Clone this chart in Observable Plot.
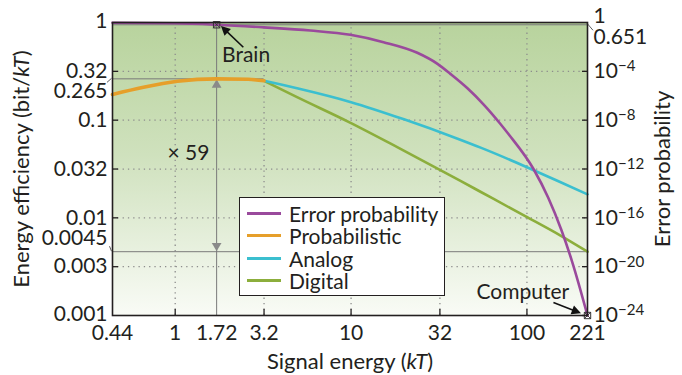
<!DOCTYPE html>
<html>
<head>
<meta charset="utf-8">
<script src="https://cdn.jsdelivr.net/npm/d3@7"></script>
<script src="https://cdn.jsdelivr.net/npm/@observablehq/plot@0.6"></script>
<style>
  body { margin: 0; background: #fff; }
  #wrap { position: relative; width: 682px; height: 375px; font-family: Lato, sans-serif; color: #231f20; }
  #legend { position: absolute; left: 239px; top: 197px; width: 206px; height: 99px; background: #fff;
            border: 1.5px solid #231f20; box-sizing: border-box; }
  .row { position: absolute; left: 0; height: 22px; display: flex; align-items: center; font-size: 21px; white-space: nowrap; }
  .sw { width: 34px; height: 3px; margin-left: 7px; margin-right: 8px; }
</style>
</head>
<body>
<div id="wrap"><div id="legend"></div></div>
<script>
// ---------- data ----------
// Error probability curve (signal energy in kT, probability)
const errX = [0.44, 1.0, 1.72, 3.2, 5.87, 9.9, 15.3, 23.8, 31, 36.7, 45.9, 56.6, 70.7, 78.5, 109, 132, 157, 181, 221];
const errP = [0.95, 0.86, 0.651, 0.40, 0.22, 0.098, 2.45e-2, 3.3e-3, 4.1e-4, 6.2e-5, 4.1e-6, 2.0e-7, 4.9e-9, 7.4e-10, 1.0e-12, 4.6e-15, 1.0e-17, 2.4e-20, 1e-24];
// Probabilistic (bit/kT)
const probX = [0.44, 0.66, 1.03, 1.72, 2.6, 3.2];
const probY = [0.183, 0.217, 0.25, 0.265, 0.262, 0.253];
// Analog
const anaX = [3.2, 5, 10, 20, 40, 55, 100, 150, 221];
const anaY = [0.253, 0.211, 0.153, 0.102, 0.065, 0.052, 0.033, 0.0238, 0.0174];
// Digital
const digX = [3.2, 4.93, 9.8, 18.3, 41.9, 54.4, 97.8, 157, 221];
const digY = [0.253, 0.172, 0.095, 0.053, 0.0239, 0.0185, 0.0104, 0.0065, 0.0045];

// Axis ticks and labels
const xLabelTicks = [0.44, 1, 1.72, 3.2, 10, 32, 100, 221];
const xTickMarks = [1, 3.2, 10, 32, 100];
const yTickVals = [0.316, 0.1, 0.0316, 0.01, 0.00316];
const yTickLabels = ["0.32", "0.1", "0.032", "0.01", "0.003"];
const yEndVals = [1, 0.001];
const yEndLabels = ["1", "0.001"];
const errTicks = [-4, -8, -12, -16, -20, -24]; // exponents of 10
const seriesNames = ["Error probability", "Probabilistic", "Analog", "Digital"];
const seriesColors = ["#9a4a9c", "#e69f2a", "#3bbfcf", "#8cae3c"];

// Annotations (data coordinates)
const brainE = 1.72, brainP = 0.651, peakEff = 0.265, compE = 221, compP = 1e-24, digEff = 0.0045;
const ratioText = "× 59";
const brainText = {x: 2.53, y: 0.465};
const brainArrow = {x1: 2.44, y1: 0.558, x2: 1.87, y2: 0.88};
const compText = {x: 94.8, y: 0.00171};
const compArrow = {x1: 141.5, y1: 0.00136, x2: 196, y2: 0.00108};
const ratioPos = {x: 1.19, y: 0.0455};

// error probability -> left-scale position (1 ↔ 1, 1e-24 ↔ 0.001)
const eff = p => Math.pow(p, 1 / 8);

const errData = errX.map((x, i) => ({x, y: eff(errP[i])}));
const probData = probX.map((x, i) => ({x, y: probY[i]}));
const anaData = anaX.map((x, i) => ({x, y: anaY[i]}));
const digData = digX.map((x, i) => ({x, y: digY[i]}));

const leftLab = yTickVals.map((v, i) => ({v, t: yTickLabels[i]}));
const rightLab = errTicks.map(k => ({v: eff(Math.pow(10, k)), t: "10^" + k}));
const gridCol = "#8d8d8d";
const refCol = "#7a7a7a";
const ink = "#231f20";
const FS = 21;

const plot = Plot.plot({
  width: 682, height: 375,
  marginLeft: 112, marginRight: 95, marginTop: 22, marginBottom: 60,
  style: {fontFamily: "Lato, sans-serif", fontSize: "22px", color: ink, background: "transparent", overflow: "visible"},
  x: {type: "log", domain: [0.44, 221]},
  y: {type: "log", domain: [0.001, 1]},
  marks: [
    Plot.frame({fill: "url(#bgGrad)", stroke: null}),
    Plot.gridX(xTickMarks, {stroke: gridCol, strokeOpacity: 1, strokeWidth: 1.3, strokeDasharray: "1.3,4"}),
    Plot.gridY(yTickVals, {stroke: gridCol, strokeOpacity: 1, strokeWidth: 1.3, strokeDasharray: "1.3,4"}),
    // reference lines
    Plot.ruleY([peakEff], {x1: 0.44, x2: 3.2, stroke: refCol, strokeWidth: 1}),
    Plot.ruleY([digEff], {stroke: refCol, strokeWidth: 1}),
    Plot.ruleY([eff(brainP)], {stroke: refCol, strokeWidth: 1}),
    Plot.ruleX([brainE], {stroke: refCol, strokeWidth: 1}),
    Plot.dot([{x: brainE, y: peakEff}], {x: "x", y: "y", symbol: "triangle", r: 3.6, fill: "#8a8a8a", stroke: null, dy: 6}),
    Plot.dot([{x: brainE, y: digEff}], {x: "x", y: "y", symbol: "triangle", r: 3.6, fill: "#8a8a8a", stroke: null, dy: -6, rotate: 180}),
    // curves
    Plot.line(digData, {x: "x", y: "y", stroke: seriesColors[3], strokeWidth: 2.6, curve: "monotone-x"}),
    Plot.line(anaData, {x: "x", y: "y", stroke: seriesColors[2], strokeWidth: 2.6, curve: "monotone-x"}),
    Plot.line(errData, {x: "x", y: "y", stroke: seriesColors[0], strokeWidth: 2.6, curve: "monotone-x"}),
    Plot.line(probData, {x: "x", y: "y", stroke: seriesColors[1], strokeWidth: 3.6, curve: "monotone-x"}),
    // markers
    Plot.dot([{x: brainE, y: eff(brainP)}, {x: compE, y: eff(compP)}], {x: "x", y: "y", symbol: "square", r: 3.6, stroke: "#333", strokeWidth: 1, fill: "none"}),
    Plot.dot([{x: brainE, y: eff(brainP)}, {x: compE, y: eff(compP)}], {x: "x", y: "y", symbol: "times", r: 3.2, stroke: "#333", strokeWidth: 0.9}),
    // annotations
    Plot.link([brainArrow], {x1: "x1", y1: "y1", x2: "x2", y2: "y2", stroke: "#111", strokeWidth: 1.6, markerEnd: "arrow"}),
    Plot.link([compArrow], {x1: "x1", y1: "y1", x2: "x2", y2: "y2", stroke: "#111", strokeWidth: 1.6, markerEnd: "arrow"}),
    Plot.text([brainText], {x: "x", y: "y", text: () => "Brain", fontSize: FS, fill: ink}),
    Plot.text([compText], {x: "x", y: "y", text: () => "Computer", fontSize: FS, fill: ink}),
    Plot.text([ratioPos], {x: "x", y: "y", text: () => ratioText, fontSize: FS, fill: ink}),
    // bottom axis: tick marks + title, labels as text
    Plot.axisX(xTickMarks, {tickSize: -6, tickPadding: 0, tickFormat: () => "", strokeWidth: 1.3,
      label: "Signal energy (kT)", labelAnchor: "center", labelOffset: 53, labelArrow: "none"}),
    Plot.text(xLabelTicks, {x: d => d, text: d => String(d), frameAnchor: "bottom", lineAnchor: "top", dy: 10, fontSize: FS, fill: ink}),
    // left axis
    Plot.axisY(yTickVals, {anchor: "left", tickSize: -6, tickPadding: 0, tickFormat: () => "", strokeWidth: 1.3,
      label: "Energy efficiency (bit/kT)", labelAnchor: "center", labelOffset: 99, labelArrow: "none"}),
    Plot.text(leftLab, {y: "v", text: "t", frameAnchor: "left", textAnchor: "end", dx: -5, fontSize: FS, fill: ink}),
    Plot.text(yEndVals, {y: d => d, text: (d, i) => yEndLabels[i], frameAnchor: "left", textAnchor: "end", dx: -5, dy: -1, fontSize: FS, fill: ink}),
    Plot.text([peakEff], {y: d => d, text: d => String(d), frameAnchor: "left", textAnchor: "end", dx: -5, dy: 12, fontSize: FS, fill: ink}),
    Plot.text([digEff], {y: d => d, text: d => String(d), frameAnchor: "left", textAnchor: "end", dx: -5, dy: -13, fontSize: FS, fill: ink}),
    // right axis (error probability)
    Plot.axisY(rightLab.map(d => d.v), {anchor: "right", tickSize: -6, tickPadding: 0, tickFormat: () => "", strokeWidth: 1.3,
      label: "Error probability", labelAnchor: "center", labelOffset: 82, labelArrow: "none"}),
    Plot.text(rightLab, {y: "v", text: "t", frameAnchor: "right", textAnchor: "start", dx: 6, fontSize: FS, fill: ink}),
    Plot.text([1], {y: d => d, text: () => "1", frameAnchor: "right", textAnchor: "start", dx: 6, dy: -6, fontSize: FS, fill: ink}),
    Plot.text([eff(brainP)], {y: d => d, text: () => String(brainP), frameAnchor: "right", textAnchor: "start", dx: 6, dy: 12, fontSize: FS, fill: ink}),
    Plot.frame({stroke: ink, strokeWidth: 1.6})
  ]
});

const svg = d3.select(plot);
// background gradient
const defs = svg.insert("defs", ":first-child");
const grad = defs.append("linearGradient").attr("id", "bgGrad").attr("x1", 0).attr("y1", 0).attr("x2", 0).attr("y2", 1);
grad.append("stop").attr("offset", "0%").attr("stop-color", "#b8d39d");
grad.append("stop").attr("offset", "45%").attr("stop-color", "#cfe1bd");
grad.append("stop").attr("offset", "100%").attr("stop-color", "#f9fbf6");
// filled arrow heads
svg.selectAll("marker").each(function () {
  const m = d3.select(this);
  m.attr("fill", "#111").attr("stroke", "none").attr("markerWidth", 9).attr("markerHeight", 9);
  m.selectAll("path").attr("d", "M-4.5,-3.2L2,0L-4.5,3.2Z");
});
// superscripts and italic text
svg.selectAll("text").each(function () {
  const t = this.textContent;
  const m = /^10\^(-?\d+)$/.exec(t);
  if (m) {
    this.innerHTML = '10<tspan dy="-0.45em" font-size="0.72em">' + m[1].replace("-", "\u2212") + '</tspan>';
  } else if (t.includes("kT")) {
    this.innerHTML = t.replace("kT", '<tspan font-style="italic">kT</tspan>');
  }
});
// leader lines for offset labels
const Y = plot.scale("y");
const leaders = [
  [107, Y.apply(peakEff) + 4, 111.5, Y.apply(peakEff)],
  [109.5, Y.apply(digEff) - 5, 111.5, Y.apply(digEff)],
  [587, Y.apply(eff(brainP)) - 1, 593, Y.apply(eff(brainP)) + 6]
];
leaders.forEach(([a, b, c, d]) => svg.append("line").attr("x1", a).attr("y1", b).attr("x2", c).attr("y2", d)
  .attr("stroke", "#333").attr("stroke-width", 0.8));

document.getElementById("wrap").prepend(plot);

// legend
const legend = document.getElementById("legend");
seriesNames.forEach((name, i) => {
  const row = document.createElement("div");
  row.className = "row";
  row.style.top = (4 + i * 22.6) + "px";
  row.innerHTML = `<span class="sw" style="background:${seriesColors[i]}"></span><span>${name}</span>`;
  legend.appendChild(row);
});
</script>
</body>
</html>
